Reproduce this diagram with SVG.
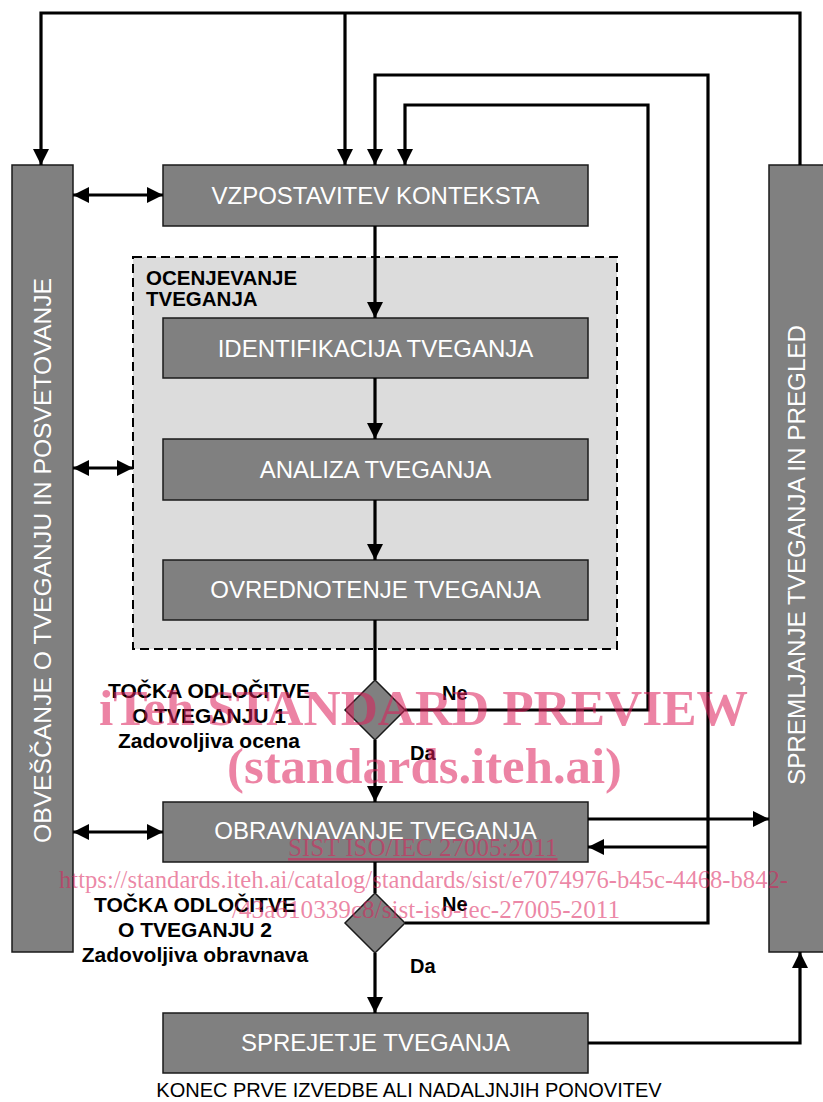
<svg xmlns="http://www.w3.org/2000/svg" width="823" height="1102" viewBox="0 0 823 1102">
<style>
.box{fill:#808080;stroke:#1a1a1a;stroke-width:1.5}
.bt{font-family:"Liberation Sans",Arial,sans-serif;font-size:24px;fill:#ffffff;text-anchor:middle}
.lbl{font-family:"Liberation Sans",Arial,sans-serif;font-size:21px;font-weight:bold;fill:#000000;text-anchor:middle}
.yn{font-family:"Liberation Sans",Arial,sans-serif;font-size:20px;font-weight:bold;fill:#000000}
.ln{fill:none;stroke:#000000;stroke-width:3.2}
.wm{font-family:"Liberation Serif","Times New Roman",serif;fill:#dc1e5a;fill-opacity:0.55}
.wmb{font-weight:bold;font-size:50px}
.wms{font-weight:normal;font-size:25px}
</style>
<defs>
<marker id="ah" viewBox="0 0 16 16" refX="16" refY="8" markerWidth="16" markerHeight="16" markerUnits="userSpaceOnUse" orient="auto-start-reverse">
<path d="M0,0 L16,8 L0,16 z" fill="#000000"/>
</marker>
</defs>
<rect width="823" height="1102" fill="#ffffff"/>

<g id="ocenjevanje">
<rect x="133" y="257" width="484" height="392" fill="#dcdcdc" stroke="#000000" stroke-width="2" stroke-dasharray="9,5"/>
<text class="lbl" style="text-anchor:start;font-size:20.5px" x="146" y="285">OCENJEVANJE</text>
<text class="lbl" style="text-anchor:start;font-size:20.5px" x="146" y="306">TVEGANJA</text>
</g>

<g id="obvescanje">
<rect class="box" x="12" y="165" width="61" height="787"/>
<text class="bt" transform="translate(42.5,560.5) rotate(-90)" x="0" y="8.6" textLength="565" lengthAdjust="spacingAndGlyphs">OBVEŠČANJE O TVEGANJU  IN POSVETOVANJE</text>
</g>

<g id="spremljanje">
<rect class="box" x="769" y="165" width="60" height="787"/>
<text class="bt" transform="translate(796,555) rotate(-90)" x="0" y="8.6" textLength="460" lengthAdjust="spacingAndGlyphs">SPREMLJANJE TVEGANJA IN PREGLED</text>
</g>

<g id="vzpostavitev">
<rect class="box" x="163" y="165" width="425" height="61"/>
<text class="bt" x="375.5" y="204">VZPOSTAVITEV KONTEKSTA</text>
</g>

<g id="identifikacija">
<rect class="box" x="163" y="318" width="425" height="60"/>
<text class="bt" x="375.5" y="357">IDENTIFIKACIJA TVEGANJA</text>
</g>

<g id="analiza">
<rect class="box" x="163" y="439" width="425" height="61"/>
<text class="bt" x="375.5" y="478">ANALIZA TVEGANJA</text>
</g>

<g id="ovrednotenje">
<rect class="box" x="163" y="560" width="425" height="60"/>
<text class="bt" x="375.5" y="598">OVREDNOTENJE TVEGANJA</text>
</g>

<g id="odlocitev1">
<path class="box" d="M375,680 L405,710 L375,740 L345,710 z"/>
<text class="lbl" x="209" y="698">TOČKA ODLOČITVE</text>
<text class="lbl" x="209" y="723">O TVEGANJU 1</text>
<text class="lbl" x="209" y="748">Zadovoljiva ocena</text>
<text class="yn" x="442" y="700">Ne</text>
<text class="yn" x="410" y="760">Da</text>
</g>

<g id="obravnavanje">
<rect class="box" x="163" y="802" width="425" height="60"/>
<text class="bt" x="375.5" y="839">OBRAVNAVANJE TVEGANJA</text>
</g>

<g id="odlocitev2">
<path class="box" d="M375,893 L405,923 L375,953 L345,923 z"/>
<text class="lbl" x="195" y="912">TOČKA ODLOČITVE</text>
<text class="lbl" x="195" y="937">O TVEGANJU 2</text>
<text class="lbl" x="195" y="962">Zadovoljiva obravnava</text>
<text class="yn" x="442" y="911">Ne</text>
<text class="yn" x="410" y="973">Da</text>
</g>

<g id="sprejetje">
<rect class="box" x="163" y="1013" width="425" height="60"/>
<text class="bt" x="375.5" y="1051">SPREJETJE TVEGANJA</text>
</g>

<g id="konec">
<text class="bt" style="fill:#000000;font-size:20px" x="409" y="1097">KONEC PRVE IZVEDBE ALI NADALJNJIH PONOVITEV</text>
</g>

<g id="connectors">
<path class="ln" d="M800,165 V13 H41 V165" marker-end="url(#ah)"/>
<path class="ln" d="M345,13 V165" marker-end="url(#ah)"/>
<path class="ln" d="M405,710 H648 V105 H405 V165" marker-end="url(#ah)"/>
<path class="ln" d="M405,923 H708 V75 H375 V165" marker-end="url(#ah)"/>
<path class="ln" d="M708,847 H588" marker-end="url(#ah)"/>
<path class="ln" d="M588,819 H769" marker-end="url(#ah)"/>
<path class="ln" d="M588,1043 H800 V952" marker-end="url(#ah)"/>
<path class="ln" d="M375,226 V318" marker-end="url(#ah)"/>
<path class="ln" d="M375,378 V439" marker-end="url(#ah)"/>
<path class="ln" d="M375,500 V560" marker-end="url(#ah)"/>
<path class="ln" d="M375,620 V680"/>
<path class="ln" d="M375,740 V802" marker-end="url(#ah)"/>
<path class="ln" d="M375,862 V893"/>
<path class="ln" d="M375,953 V1013" marker-end="url(#ah)"/>
<path class="ln" d="M73,195 H163" marker-start="url(#ah)" marker-end="url(#ah)"/>
<path class="ln" d="M73,468 H133" marker-start="url(#ah)" marker-end="url(#ah)"/>
<path class="ln" d="M73,832 H163" marker-start="url(#ah)" marker-end="url(#ah)"/>
</g>

<g id="watermark">
<text class="wm wmb" x="99" y="725" textLength="649" lengthAdjust="spacingAndGlyphs">iTeh STANDARD PREVIEW</text>
<text class="wm wmb" x="227" y="783" textLength="395" lengthAdjust="spacingAndGlyphs">(standards.iteh.ai)</text>
<text class="wm wms" x="288" y="856" text-decoration="underline">SIST ISO/IEC 27005:2011</text>
<text class="wm wms" x="59" y="888" textLength="729" lengthAdjust="spacingAndGlyphs">https://standards.iteh.ai/catalog/standards/sist/e7074976-b45c-4468-b842-</text>
<text class="wm wms" x="232" y="918" textLength="388" lengthAdjust="spacingAndGlyphs">/43a610339c8/sist-iso-iec-27005-2011</text>
</g>
</svg>
